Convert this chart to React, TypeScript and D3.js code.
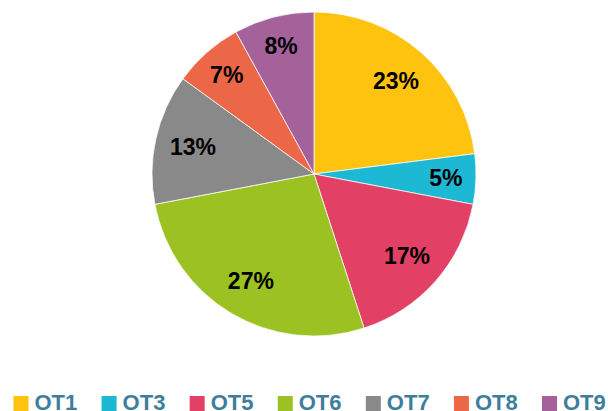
import React from "react";
import * as d3 from "d3";

const categories = ["OT1", "OT3", "OT5", "OT6", "OT7", "OT8", "OT9"];
const values = [23, 5, 17, 27, 13, 7, 8];
const colors = ["#FDC30F", "#1DB8D3", "#E34066", "#9BC122", "#898989", "#EC6747", "#A4619A"];

const W = 608;
const H = 411;

export default function App() {
  const cx = 314;
  const cy = 174;
  const r = 162;
  const data = categories.map((c, i) => ({ c, v: values[i], color: colors[i] }));
  const pie = d3.pie<any>().value((d: any) => d.v).sort(null);
  const arcs = pie(data);
  const arcGen = d3.arc<any>().innerRadius(0).outerRadius(r);
  const legendX = d3.scaleLinear().domain([0, categories.length - 1]).range([13.5, 542]);

  return (
    <svg width={W} height={H} style={{ position: "absolute", left: 0, top: 0, background: "#fff" }}>
      <g transform={`translate(${cx},${cy})`}>
        {arcs.map((a, i) => (
          <path key={i} d={arcGen(a) as string} fill={a.data.color} stroke="#fff" strokeWidth={0.75} />
        ))}
        {arcs.map((a, i) => {
          const mid = (a.startAngle + a.endAngle) / 2;
          const span = a.endAngle - a.startAngle;
          const lr = span < 0.6 ? r - 30 : r - 38;
          const x = Math.sin(mid) * lr;
          const y = -Math.cos(mid) * lr;
          return (
            <text
              key={"l" + i}
              x={x}
              y={y}
              textAnchor="middle"
              dominantBaseline="central"
              fontFamily="'Liberation Sans', Arial, sans-serif"
              fontWeight="bold"
              fontSize={23}
              fill="#000"
            >
              {a.data.v}%
            </text>
          );
        })}
      </g>
      {categories.map((c, i) => (
        <g key={"lg" + i} transform={`translate(${legendX(i)},0)`}>
          <rect x={0} y={396} width={15} height={15} fill={colors[i]} />
          <text
            x={21}
            y={410}
            fontFamily="'Liberation Sans', Arial, sans-serif"
            fontWeight="bold"
            fontSize={22}
            fill="#3E7D9C"
          >
            {c}
          </text>
        </g>
      ))}
    </svg>
  );
}
